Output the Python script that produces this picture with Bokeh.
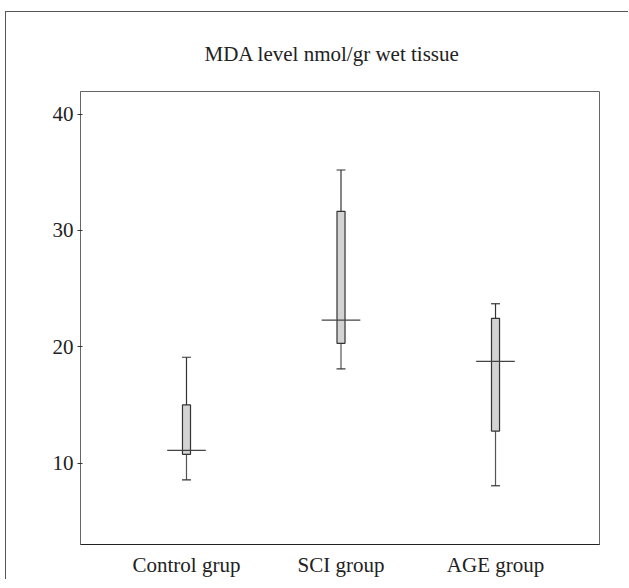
import numpy as np
from bokeh.plotting import figure
from bokeh.models import FixedTicker, Title
from bokeh.embed import file_html
from bokeh.resources import INLINE

# ---- data ----
groups = ["Control grup", "SCI group", "AGE group"]
whisker_low = [8.55, 18.1, 8.05]
q1 = [10.75, 20.3, 12.75]
median = [11.1, 22.3, 18.75]
q3 = [15.0, 31.65, 22.45]
whisker_high = [19.1, 35.2, 23.7]
y_ticks = [10, 20, 30, 40]
title_text = "MDA level nmol/gr wet tissue"

xs = np.arange(1, len(groups) + 1)
FONT = "Liberation Serif"

p = figure(width=623, height=568,
           x_range=(0.314, 3.673), y_range=(3.0, 41.95),
           output_backend="svg", toolbar_location=None,
           min_border_left=74, min_border_right=30,
           min_border_top=79, min_border_bottom=36)
p.styles = {"margin-left": "5px", "margin-top": "11px",
            "border-left": "1px solid #555", "border-top": "1px solid #555"}

p.background_fill_color = "white"
p.border_fill_color = "white"
p.outline_line_color = "#666666"
p.xgrid.grid_line_color = None
p.ygrid.grid_line_color = None

t = Title(text=title_text, align="left", vertical_align="top", text_font=FONT,
          text_font_size="21px", text_font_style="normal", text_color="#222222",
          standoff=48, offset=124)
p.add_layout(t, "above")

cap = 0.029
med_half = 0.125
box_w = 0.052

# whiskers
p.segment(x0=xs, y0=whisker_low, x1=xs, y1=q1, line_color="#555555", line_width=1.2)
p.segment(x0=xs, y0=q3, x1=xs, y1=whisker_high, line_color="#333333", line_width=1.2)
# caps
p.segment(x0=xs - cap, y0=whisker_low, x1=xs + cap, y1=whisker_low, line_color="#333333", line_width=1.2)
p.segment(x0=xs - cap, y0=whisker_high, x1=xs + cap, y1=whisker_high, line_color="#333333", line_width=1.2)
# boxes
p.vbar(x=xs, bottom=q1, top=q3, width=box_w, fill_color="#d3d3d3",
       line_color="#333333", line_width=1.2)
# median cross lines
p.segment(x0=xs - med_half, y0=median, x1=xs + med_half, y1=median,
          line_color="#444444", line_width=1.3)

# axes
p.xaxis.ticker = FixedTicker(ticks=list(xs))
p.xaxis.major_label_overrides = {int(x): g for x, g in zip(xs, groups)}
p.xaxis.major_tick_line_color = None
p.xaxis.minor_tick_line_color = None
p.xaxis.axis_line_color = "#222222"
p.xaxis.major_label_standoff = 2
p.yaxis.ticker = FixedTicker(ticks=y_ticks)
p.yaxis.minor_tick_line_color = None
p.yaxis.axis_line_color = "#666666"
p.yaxis.major_tick_line_color = "#333333"
p.yaxis.major_tick_in = 2
p.yaxis.major_tick_out = 3
p.yaxis.major_label_standoff = 4
for ax in (p.xaxis, p.yaxis):
    ax.major_label_text_font = FONT
    ax.major_label_text_font_size = "21px"
    ax.major_label_text_color = "#222222"

open("out.html", "w").write(file_html(p, INLINE))
